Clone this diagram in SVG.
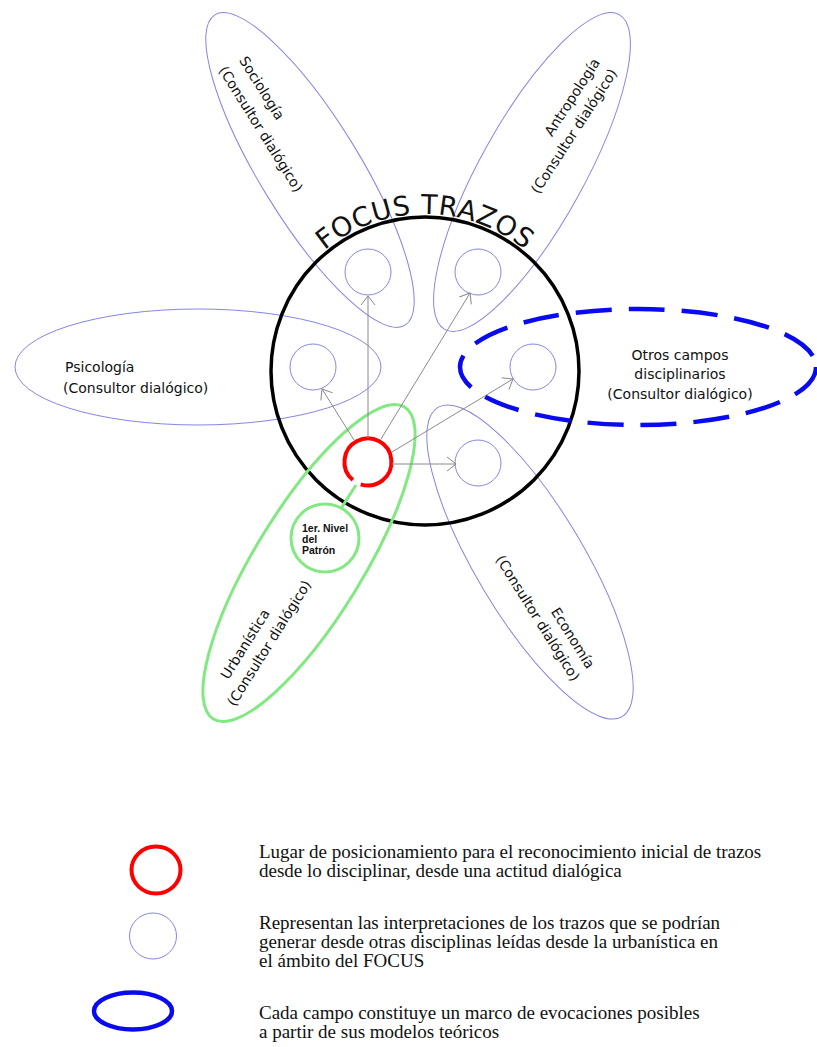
<svg xmlns="http://www.w3.org/2000/svg" width="817" height="1047" viewBox="0 0 817 1047">
<style>
.petal{fill:none;stroke:#8585e6;stroke-width:1}
.sc{fill:none;stroke:#8585e6;stroke-width:1}
.arr{fill:none;stroke:#8a8a8a;stroke-width:1;marker-end:url(#ah)}
.lbl{font-family:"DejaVu Sans","Liberation Sans",sans-serif;font-size:14px;fill:#111}
.ttl{font-family:"DejaVu Sans","Liberation Sans",sans-serif;font-size:27px;fill:#111;letter-spacing:0.6px}
.small{font-family:"Liberation Sans","DejaVu Sans",sans-serif;font-size:10.5px;font-weight:bold;fill:#111}
.leg{font-family:"Liberation Serif","Times New Roman",serif;font-size:19px;fill:#111}
.green{fill:none;stroke:#82e882;stroke-width:3}
</style>
<defs>
<marker id="ah" viewBox="-11 -9 13 18" markerWidth="13" markerHeight="18" refX="0" refY="0" orient="auto" markerUnits="userSpaceOnUse">
<path d="M-9,-7 L0,0 L-9,7" fill="none" stroke="#8a8a8a" stroke-width="1"/>
</marker>
<path id="arcTitle" d="M268,371 A157 157 0 0 1 582,371"/>
</defs>
<rect width="817" height="1047" fill="#ffffff"/>

<g id="petal-sociologia">
<ellipse class="petal" cx="310" cy="170" rx="182" ry="50" transform="rotate(58.5 310 170)"/>
<text class="lbl" text-anchor="middle" transform="translate(262,88) rotate(58)" y="5">Sociología</text>
<text class="lbl" text-anchor="middle" transform="translate(261,129) rotate(58)" y="5">(Consultor dialógico)</text>
</g>
<g id="petal-antropologia">
<ellipse class="petal" cx="532" cy="172" rx="180" ry="52" transform="rotate(-61 532 172)"/>
<text class="lbl" text-anchor="middle" transform="translate(572,97) rotate(-57)" y="5">Antropología</text>
<text class="lbl" text-anchor="middle" transform="translate(574,131) rotate(-57)" y="5">(Consultor dialógico)</text>
</g>
<g id="petal-psicologia">
<ellipse class="petal" cx="198" cy="367" rx="183" ry="58"/>
<text class="lbl" x="65" y="372">Psicología</text>
<text class="lbl" x="63" y="393">(Consultor dialógico)</text>
</g>
<g id="petal-economia">
<ellipse class="petal" cx="530" cy="562" rx="180" ry="54" transform="rotate(59.2 530 562)"/>
<text class="lbl" text-anchor="middle" transform="translate(573,638) rotate(58)" y="5">Economía</text>
<text class="lbl" text-anchor="middle" transform="translate(538,618) rotate(58)" y="5">(Consultor dialógico)</text>
</g>

<g id="focus-circle">
<circle cx="425" cy="371" r="154" fill="none" stroke="#000" stroke-width="3.5"/>
<text class="ttl"><textPath href="#arcTitle" startOffset="50%" text-anchor="middle">FOCUS TRAZOS</textPath></text>
</g>

<g id="petal-urbanistica">
<ellipse class="green" cx="309" cy="563" rx="183" ry="54" transform="rotate(-58.5 309 563)"/>
<text class="lbl" text-anchor="middle" transform="translate(245,644) rotate(-58)" y="5">Urbanística</text>
<text class="lbl" text-anchor="middle" transform="translate(269,643) rotate(-58)" y="5">(Consultor dialógico)</text>
</g>
<g id="nivel-patron">
<circle class="green" cx="325" cy="538" r="34"/>
<text class="small" x="302" y="532">1er. Nivel</text>
<text class="small" x="302" y="543">del</text>
<text class="small" x="302" y="554">Patrón</text>
</g>

<g id="petal-otros">
<ellipse cx="638" cy="367" rx="178" ry="58" fill="none" stroke="#0a0aee" stroke-width="4.5" stroke-dasharray="36 17"/>
<text class="lbl" text-anchor="middle" x="680" y="360">Otros campos</text>
<text class="lbl" text-anchor="middle" x="680" y="379">disciplinarios</text>
<text class="lbl" text-anchor="middle" x="680" y="399">(Consultor dialógico)</text>
</g>

<g id="interp-circles">
<circle class="sc" cx="368" cy="272" r="23"/>
<circle class="sc" cx="478" cy="272" r="23"/>
<circle class="sc" cx="313" cy="367" r="23"/>
<circle class="sc" cx="533" cy="367" r="23"/>
<circle class="sc" cx="478" cy="463" r="23"/>
</g>

<g id="origin">
<path d="M352.9,480 A23.5 23.5 0 1 1 360.7,484.3" fill="none" stroke="#ff0000" stroke-width="4"/>
</g>

<g id="connectors">
<line class="green" x1="356" y1="485" x2="342" y2="507"/>
<line class="arr" x1="354" y1="440" x2="322" y2="389"/>
<line class="arr" x1="368" y1="438" x2="368" y2="296"/>
<line class="arr" x1="381" y1="439" x2="470" y2="293"/>
<line class="arr" x1="392" y1="452" x2="513" y2="379"/>
<line class="arr" x1="392" y1="464" x2="456" y2="464"/>
</g>

<g id="legend">
<ellipse cx="156" cy="870" rx="24.5" ry="23.5" fill="none" stroke="#ff0000" stroke-width="4"/>
<ellipse cx="153" cy="936" rx="23.5" ry="23" fill="none" stroke="#8585e6" stroke-width="1"/>
<ellipse cx="133" cy="1011" rx="39" ry="18.5" fill="none" stroke="#0a0aee" stroke-width="4.5"/>
<text class="leg" x="259" y="858">Lugar de posicionamiento para el reconocimiento inicial de trazos</text>
<text class="leg" x="259" y="877">desde lo disciplinar, desde una actitud dialógica</text>
<text class="leg" x="259" y="929">Representan las interpretaciones de los trazos que se podrían</text>
<text class="leg" x="259" y="948">generar desde otras disciplinas leídas desde la urbanística en</text>
<text class="leg" x="259" y="967">el ámbito del FOCUS</text>
<text class="leg" x="259" y="1019">Cada campo constituye un marco de evocaciones posibles</text>
<text class="leg" x="259" y="1038">a partir de sus modelos teóricos</text>
</g>
</svg>
